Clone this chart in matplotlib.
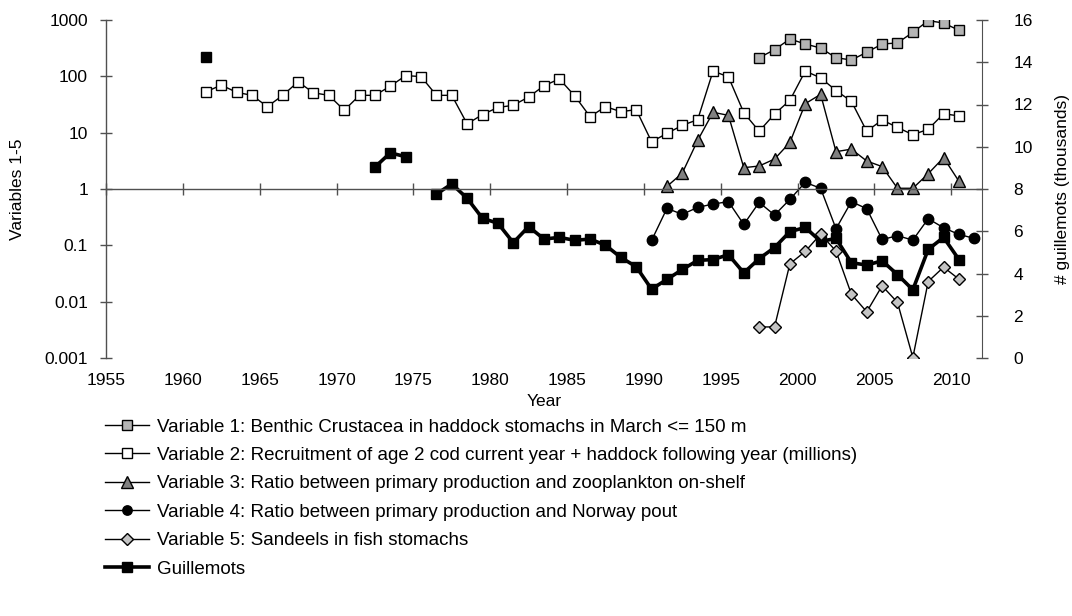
import numpy as np
import matplotlib.pyplot as plt
from matplotlib.ticker import FixedLocator, NullLocator, FuncFormatter

plt.rcParams['font.family'] = ['Liberation Sans', 'DejaVu Sans']
plt.rcParams['font.size'] = 12.5

# Variable 1: benthic Crustacea in haddock stomachs (March, <= 150 m)
v1_years = list(range(1997, 2011))
v1 = [214, 297, 460, 375, 318, 214, 195, 267, 375, 391, 604, 973, 885, 656]

# Variable 2: recruitment, age 2 cod + haddock following year (millions)
v2_years = list(range(1961, 2011))
v2 = [53, 70, 52, 46, 29, 46, 80, 51, 46, 25,
      46, 46, 67, 103, 99, 46, 46, 14.3, 21, 28,
      30.6, 43, 68, 90, 45, 19.2, 29, 23.6, 25.6, 6.9,
      9.7, 13.5, 17, 124, 98, 22.6, 10.6, 21.4, 37.5, 124,
      94, 56, 36, 10.6, 16.8, 12.4, 9.2, 11.5, 21.7, 19.8]

# Variable 3: primary production / zooplankton on-shelf
v3_years = list(range(1991, 2011))
v3 = [1.11, 1.92, 7.3, 23, 20.3, 2.39, 2.56, 3.4, 6.7, 32.7,
      47.9, 4.6, 5.1, 3.14, 2.5, 1.03, 1.03, 1.87, 3.6, 1.37]

# Variable 4: primary production / Norway pout
v4_years = list(range(1990, 2012))
v4 = [0.122, 0.453, 0.355, 0.472, 0.541, 0.596, 0.235, 0.579, 0.345, 0.655,
      1.31, 1.03, 0.197, 0.596, 0.447, 0.127, 0.148, 0.124, 0.297, 0.205,
      0.156, 0.133]

# Variable 5: sandeels in fish stomachs
v5_years = list(range(1997, 2011))
v5 = [0.00356, 0.00356, 0.047, 0.078, 0.158, 0.079, 0.0136, 0.0066, 0.0191,
      0.0097, 0.00102, 0.0228, 0.041, 0.0251]

# Guillemots (thousands), gaps where no count exists
nan = np.nan
g_years = list(range(1961, 2011))
guillemots = [14.25, nan, nan, nan, nan, nan, nan, nan, nan, nan,
              nan, 9.04, 9.71, 9.53, nan, 7.76, 8.24, 7.56, 6.61, 6.38,
              5.46, 6.22, 5.63, 5.71, 5.57, 5.63, 5.34, 4.76, 4.32, 3.26,
              3.72, 4.19, 4.62, 4.66, 4.89, 4.03, 4.70, 5.23, 5.98, 6.18,
              5.52, 5.66, 4.51, 4.40, 4.60, 3.95, 3.23, 5.14, 5.71, 4.66]

labels = [
    'Variable 1: Benthic Crustacea in haddock stomachs in March <= 150 m',
    'Variable 2: Recruitment of age 2 cod current year + haddock following year (millions)',
    'Variable 3: Ratio between primary production and zooplankton on-shelf',
    'Variable 4: Ratio between primary production and Norway pout',
    'Variable 5: Sandeels in fish stomachs',
    'Guillemots',
]

axis_col = '#505050'


def mid(years):
    # values are plotted at mid-year
    return np.asarray(years) + 0.5


fig = plt.figure(figsize=(10.72, 6.16), dpi=100)
ax = fig.add_axes([106 / 1072, 1 - 358 / 616, 876 / 1072, 338 / 616])
ax2 = ax.twinx()
ax.set_zorder(ax2.get_zorder() + 1)
ax.patch.set_visible(False)

line_kw = dict(color='black', lw=1.0, mec='black', mew=1.0)
h1, = ax.plot(mid(v1_years), v1, marker='s', ms=7.5, mfc='#b4b4b4', **line_kw)
h2, = ax.plot(mid(v2_years), v2, marker='s', ms=7.5, mfc='white', **line_kw)
h3, = ax.plot(mid(v3_years), v3, marker='^', ms=9, mfc='#808080', **line_kw)
h4, = ax.plot(mid(v4_years), v4, marker='o', ms=7.5, mfc='black', **line_kw)
h5, = ax.plot(mid(v5_years), v5, marker='D', ms=6.5, mfc='#c4c4c4', **line_kw)
hg, = ax2.plot(mid(g_years), guillemots, marker='s', ms=7.5, color='black',
               lw=2.6, mfc='black', mec='black')

# left log axis, horizontal axis crossing at 1
ax.set_yscale('log')
ax.set_ylim(1e-3, 1e3)
ax.set_xlim(1955, 2012)
ax.yaxis.set_major_locator(FixedLocator([1e-3, 1e-2, 1e-1, 1, 10, 100, 1000]))
ax.yaxis.set_minor_locator(NullLocator())
ax.yaxis.set_major_formatter(FuncFormatter(lambda v, p: '%g' % v))
ax.set_xticks(range(1955, 2011, 5))

for s in ('top', 'right'):
    ax.spines[s].set_visible(False)
ax.spines['bottom'].set_position(('data', 1))
for s in ('left', 'bottom'):
    ax.spines[s].set_color(axis_col)
    ax.spines[s].set_linewidth(1.0)

ax.tick_params(axis='y', direction='inout', length=9, width=1, color=axis_col, pad=8.5)
ax.tick_params(axis='x', direction='inout', length=9, width=1, color=axis_col, pad=128)

# right linear axis for guillemots
ax2.set_ylim(0, 16)
ax2.set_yticks(range(0, 17, 2))
for s in ('top', 'left', 'bottom'):
    ax2.spines[s].set_visible(False)
ax2.spines['right'].set_color(axis_col)
ax2.tick_params(axis='y', direction='inout', length=9, width=1, color=axis_col, pad=18)

ax.set_xlabel('Year', labelpad=4)
fig.text(18 / 1072, 1 - 189 / 616, 'Variables 1-5', rotation=90, ha='center', va='center')
fig.text(1062 / 1072, 1 - 189 / 616, '# guillemots (thousands)', rotation=90,
         ha='center', va='center')

fig.legend([h1, h2, h3, h4, h5, hg], labels, loc='upper left',
           bbox_to_anchor=(105 / 1072, 1 - 418.5 / 616), frameon=False,
           fontsize=13.5, handlelength=2.35, handletextpad=0.43, labelspacing=0.6,
           borderpad=0, borderaxespad=0, markerscale=0.9)

fig.savefig('out.png', dpi=100)
